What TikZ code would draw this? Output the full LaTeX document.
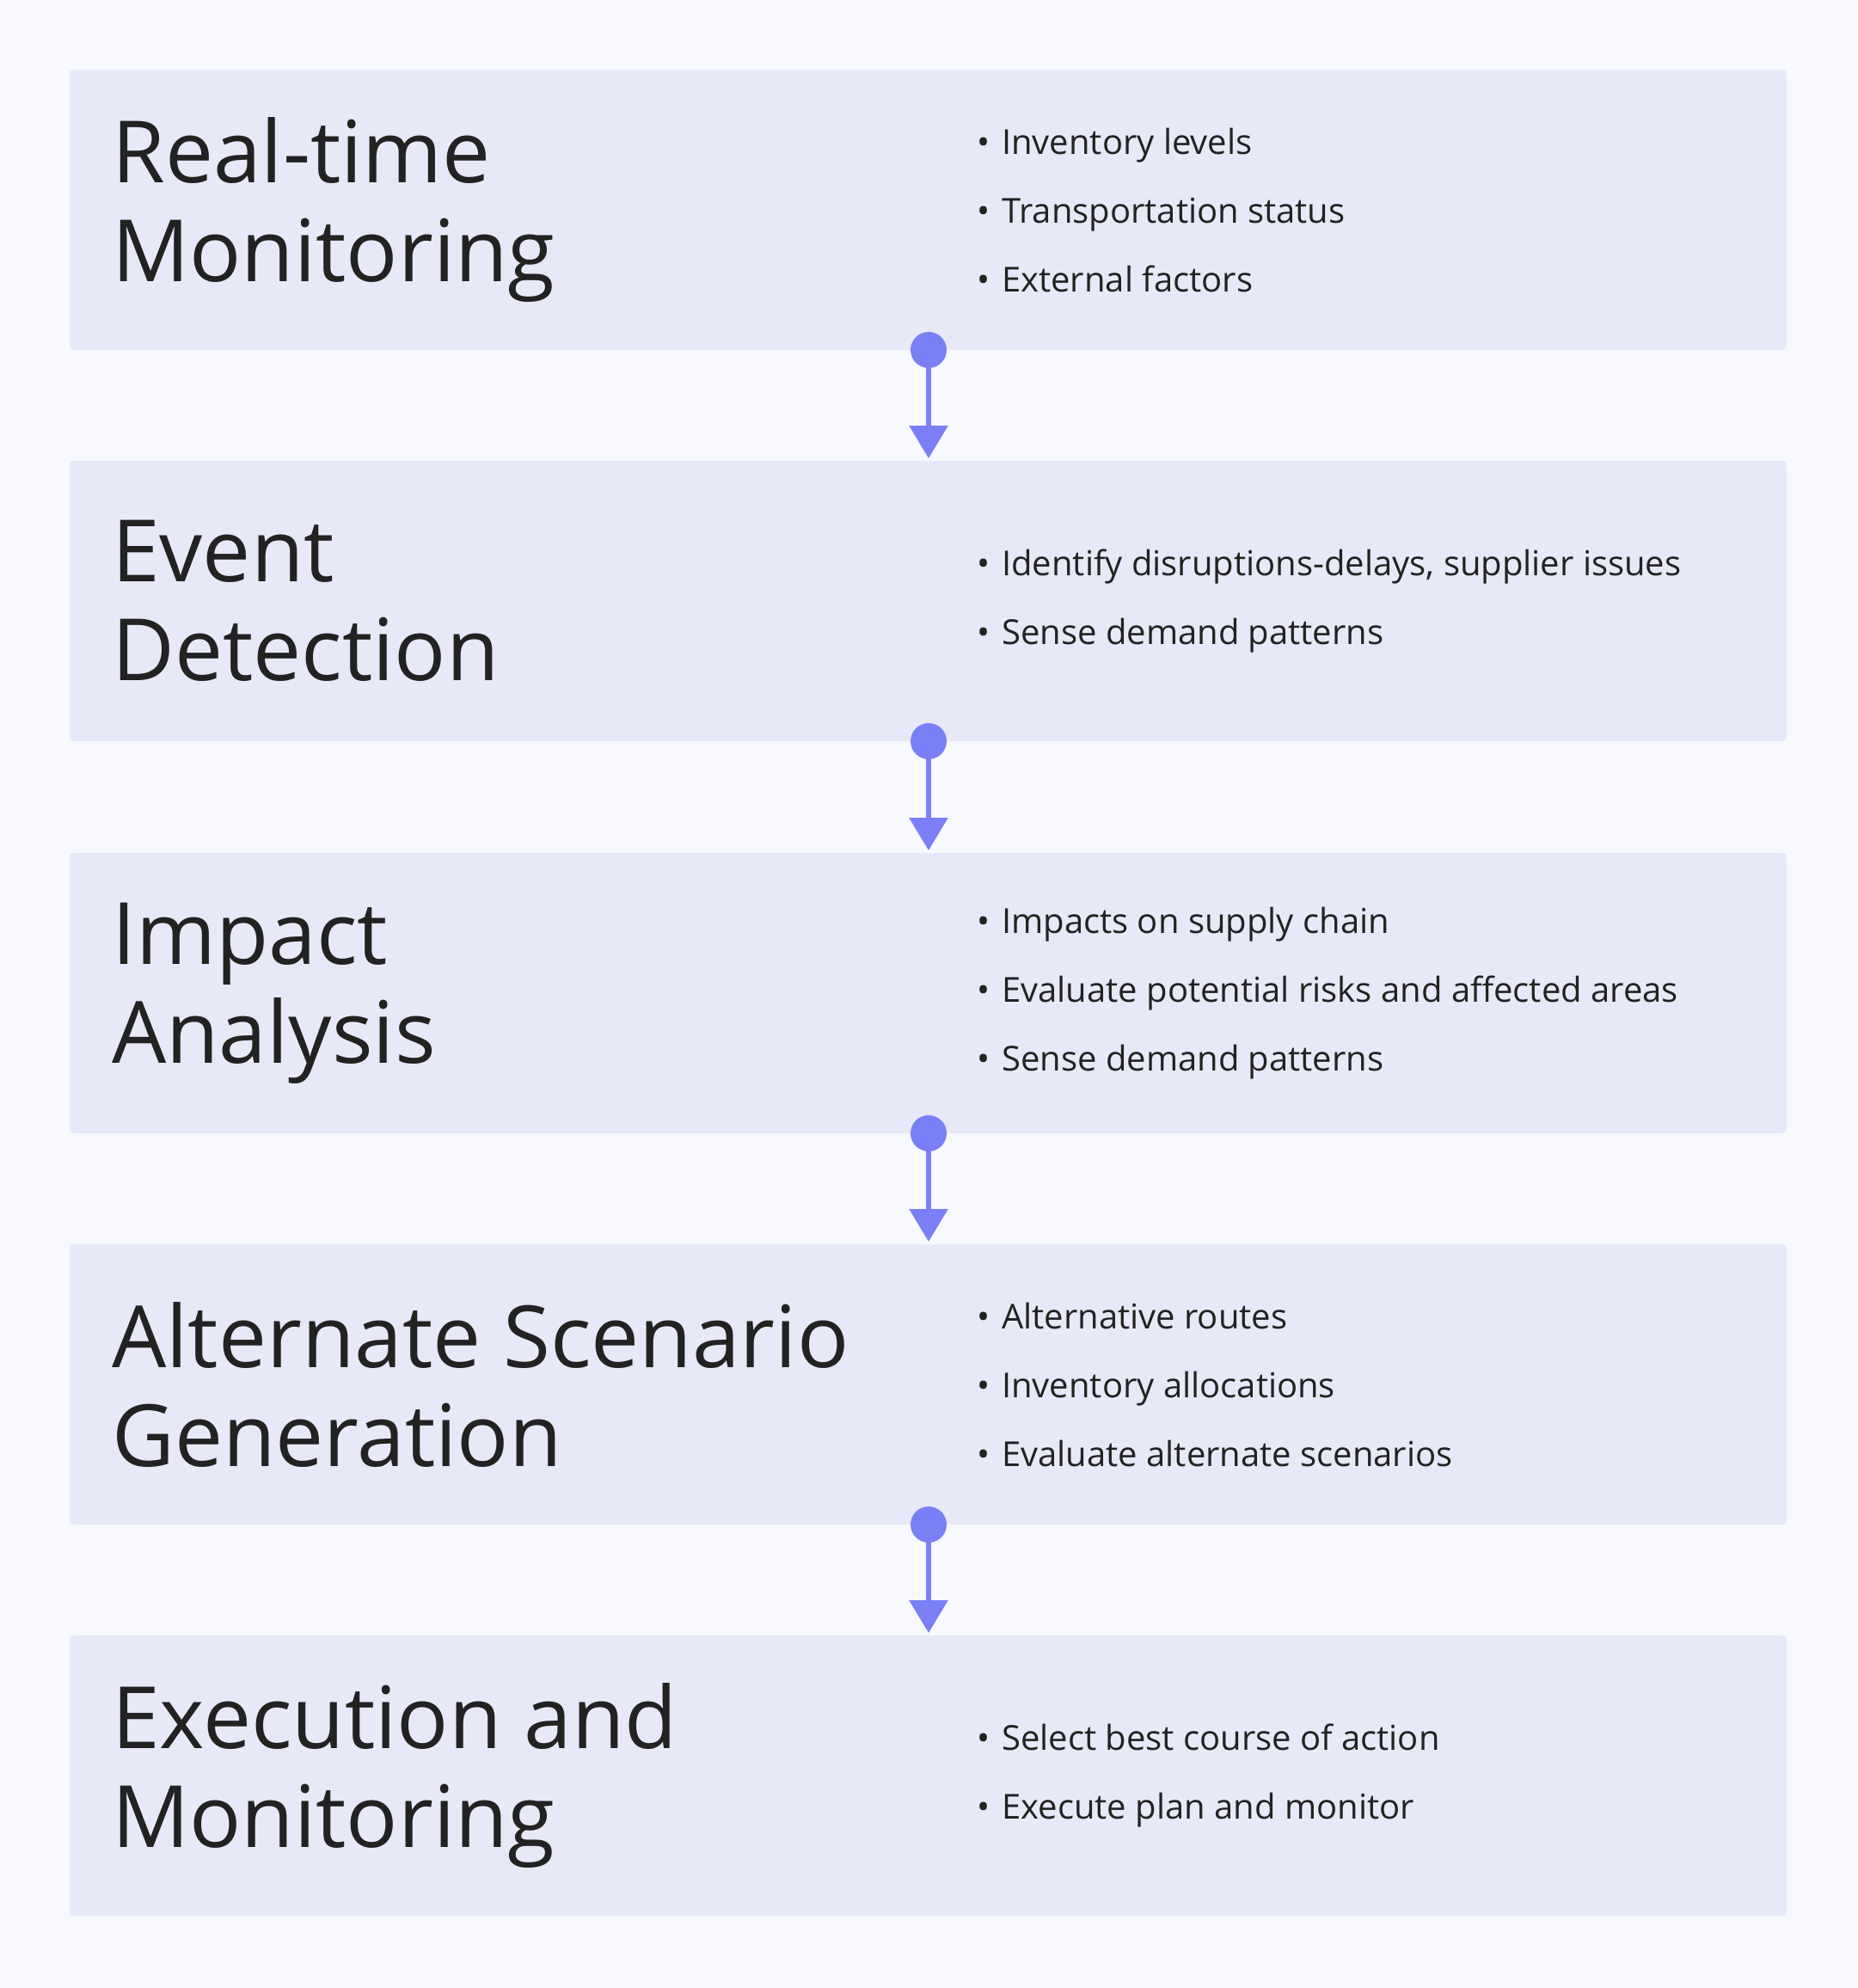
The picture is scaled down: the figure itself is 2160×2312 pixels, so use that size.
\documentclass[tikz,border=0pt]{standalone}
\usepackage{fontspec}
\setmainfont{Open Sans}
\usetikzlibrary{arrows.meta}
\definecolor{bg}{HTML}{F8F9FE}
\definecolor{boxc}{HTML}{E7E9F8}
\definecolor{arr}{HTML}{7B7FF5}
\definecolor{txt}{HTML}{222222}
\tikzset{
 stagebox/.style={fill=boxc,rounded corners=4pt},
 ttl/.style={anchor=west,align=left,text=txt,font=\fontsize{100}{115}\selectfont,inner sep=0pt},
 blt/.style={anchor=west,align=left,text=txt,font=\fontsize{40}{80}\selectfont,inner sep=0pt},
 dot/.style={circle,fill=arr,minimum size=42pt,inner sep=0pt},
 conn/.style={draw=arr,line width=6pt,-{Triangle[width=44pt,length=38pt]}}
}
\newcommand{\bl}[1]{\makebox[29pt][l]{\textbullet}#1}
\begin{document}
\begin{tikzpicture}[x=1pt,y=-1pt]
\fill[bg] (0,0) rectangle (2160,2312);
\useasboundingbox (0,0) rectangle (2160,2312);
\foreach \i/\t in {1/81,2/536,3/992,4/1447,5/1902}{
  \fill[stagebox] (81,\t) rectangle (2078,\t+326);
  \coordinate (c\i) at (1080,\t+163);
}
\node[ttl] (t1) at (130,244) {Real-time\\Monitoring};
\node[ttl] (t2) at (130,699) {Event\\Detection};
\node[ttl] (t3) at (130,1155) {Impact\\Analysis};
\node[ttl] (t4) at (130,1610) {Alternate Scenario\\Generation};
\node[ttl] (t5) at (130,2065) {Execution and\\Monitoring};
\node[blt] (b1) at (1136,244) {\bl{Inventory levels}\\\bl{Transportation status}\\\bl{External factors}};
\node[blt] (b2) at (1136,699) {\bl{Identify disruptions-delays, supplier issues}\\\bl{Sense demand patterns}};
\node[blt] (b3) at (1136,1155) {\bl{Impacts on supply chain}\\\bl{Evaluate potential risks and affected areas}\\\bl{Sense demand patterns}};
\node[blt] (b4) at (1136,1610) {\bl{Alternative routes}\\\bl{Inventory allocations}\\\bl{Evaluate alternate scenarios}};
\node[blt] (b5) at (1136,2065) {\bl{Select best course of action}\\\bl{Execute plan and monitor}};
\foreach \i/\b/\n in {1/407/536,2/862/992,3/1318/1447,4/1773/1902}{
  \node[dot] (d\i) at (1080,\b) {};
  \coordinate (e\i) at (1080,\n-3);
  \draw[conn] (d\i.center) -- (e\i);
}
\end{tikzpicture}
\end{document}
